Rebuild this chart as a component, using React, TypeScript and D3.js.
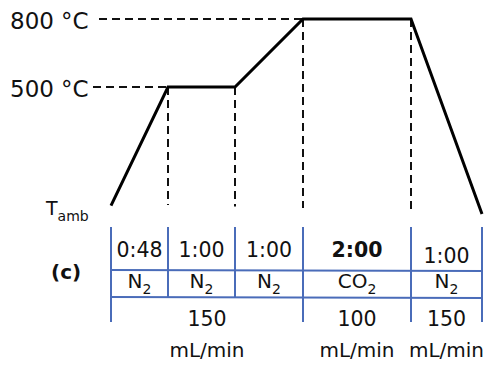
import React from "react";
import * as d3 from "d3";

// Heating programme: stage boundaries (in stage units) and furnace set-points
const PROFILE_X = [0, 1, 2, 3, 4, 5];
const PROFILE_T = [40, 500, 500, 800, 800, 8];

// Temperature labels on the left
const TEMP_LABELS = [800, 500];

// Per-stage table rows
const STAGE_TIMES = ["0:48", "1:00", "1:00", "2:00", "1:00"];
const STAGE_GAS = ["N2", "N2", "N2", "CO2", "N2"];
const BOLD_STAGE = 3;

// Gas flow groups spanning several stages
const FLOW_FROM = [0, 3, 4];
const FLOW_TO = [3, 4, 5];
const FLOW_RATE = [150, 100, 150];

const W = 484;
const H = 367;
const FONT = "'DejaVu Sans', sans-serif";
const BLUE = "#4a6cb9";

const x = d3.scaleLinear().domain(PROFILE_X).range([111, 168, 235, 303, 411, 482]);
const y = d3.scaleLinear().domain([0, 500, 800]).range([216, 87, 19]);

const line = d3
  .line<number>()
  .x((_, i) => x(PROFILE_X[i]))
  .y((t) => y(t));

function GasLabel({ gas, cx, by }: { gas: string; cx: number; by: number }) {
  const m = gas.match(/^(.*?)(\d+)$/);
  const main = m ? m[1] : gas;
  const sub = m ? m[2] : "";
  return (
    <text x={cx} y={by} textAnchor="middle" fontSize={20} fontFamily={FONT} fill="#111">
      {main}
      <tspan fontSize={14} dy={6}>
        {sub}
      </tspan>
    </text>
  );
}

export default function App() {
  const rowTop = 227;
  const rowMid = 270;
  const rowBot = 297;
  const tableBottom = 322;
  const majorBounds = new Set([...FLOW_FROM, ...FLOW_TO]);

  return (
    <svg width={W} height={H} style={{ position: "absolute", left: 0, top: 0 }}>
      <rect width={W} height={H} fill="#fff" />

      {/* temperature labels with dashed guide lines */}
      {TEMP_LABELS.map((t) => {
        const i = PROFILE_T.indexOf(t);
        const yy = y(t);
        return (
          <g key={t}>
            <text x={10} y={yy + 10} fontSize={23} fontFamily={FONT} fill="#111">
              {t}
              <tspan dx={7}>°C</tspan>
            </text>
            <line
              x1={t === 800 ? 99 : 93}
              x2={x(PROFILE_X[i])}
              y1={yy}
              y2={yy}
              stroke="#111"
              strokeWidth={2}
              strokeDasharray="8 5"
            />
          </g>
        );
      })}

      {/* dashed stage separators */}
      {PROFILE_X.slice(1, -1).map((s, k) => (
        <line
          key={s}
          x1={x(s)}
          x2={x(s)}
          y1={y(PROFILE_T[k + 1])}
          y2={205 + k * 1.5}
          stroke="#111"
          strokeWidth={2}
          strokeDasharray="8 5"
        />
      ))}

      {/* temperature profile */}
      <path d={line(PROFILE_T) ?? ""} fill="none" stroke="#000" strokeWidth={3} strokeLinejoin="miter" />

      {/* ambient label */}
      <text x={46} y={215} fontSize={19} fontFamily={FONT} fill="#111">
        T
        <tspan fontSize={14} dy={6}>
          amb
        </tspan>
      </text>

      <text x={51} y={279} fontSize={20} fontWeight="bold" fontFamily={FONT} fill="#111">
        (c)
      </text>

      {/* table grid */}
      <g stroke={BLUE} strokeWidth={2}>
        {PROFILE_X.map((s) => (
          <line
            key={s}
            x1={x(s)}
            x2={x(s)}
            y1={rowTop}
            y2={majorBounds.has(s) ? tableBottom : rowBot}
          />
        ))}
        <line x1={x(0)} x2={x(5)} y1={rowMid} y2={rowMid + 1} />
        <line x1={x(0)} x2={x(5)} y1={rowBot} y2={rowBot + 1} />
      </g>

      {/* stage durations */}
      {STAGE_TIMES.map((t, i) => (
        <text
          key={i}
          x={(x(PROFILE_X[i]) + x(PROFILE_X[i + 1])) / 2}
          y={i === 4 ? 263 : 257}
          textAnchor="middle"
          fontSize={20.5}
          fontWeight={i === BOLD_STAGE ? "bold" : "normal"}
          fontFamily={FONT}
          fill="#111"
        >
          {t}
        </text>
      ))}

      {/* stage gases */}
      {STAGE_GAS.map((g, i) => (
        <GasLabel key={i} gas={g} cx={(x(PROFILE_X[i]) + x(PROFILE_X[i + 1])) / 2} by={288} />
      ))}

      {/* flow rates */}
      {FLOW_RATE.map((r, i) => {
        const cx = (x(FLOW_FROM[i]) + x(FLOW_TO[i])) / 2;
        return (
          <g key={i}>
            <text x={cx} y={326} textAnchor="middle" fontSize={20.5} fontFamily={FONT} fill="#111">
              {r}
            </text>
            <text x={cx} y={357} textAnchor="middle" fontSize={20} fontFamily={FONT} fill="#111">
              mL/min
            </text>
          </g>
        );
      })}
    </svg>
  );
}
